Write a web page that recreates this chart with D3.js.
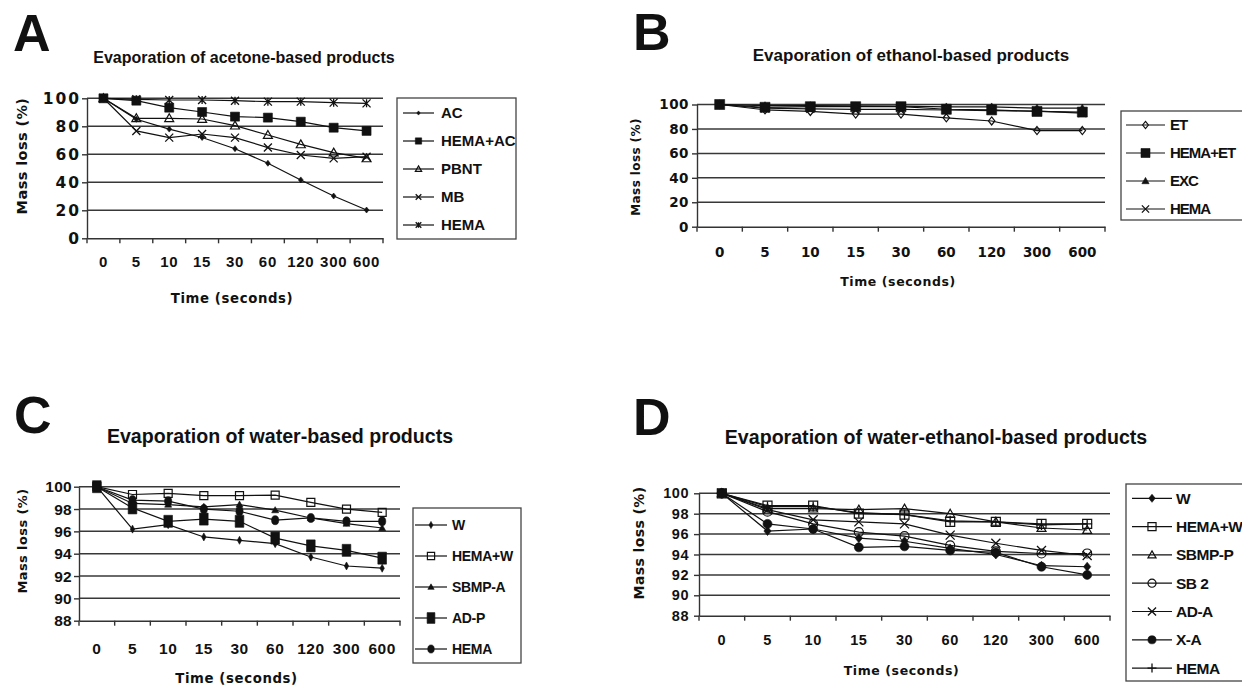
<!DOCTYPE html>
<html>
<head>
<meta charset="utf-8">
<script src="https://cdn.jsdelivr.net/npm/d3@7"></script>
<style>
  body { margin: 0; background: #fff; }
  text { fill: #111; }
</style>
</head>
<body>
<div id="chart"></div>
<script>
// Shared time categories
var timeLabels = ["0", "5", "10", "15", "30", "60", "120", "300", "600"];

// Panel A - acetone
var namesA = ["AC", "HEMA+AC", "PBNT", "MB", "HEMA"];
var acA     = [100, 85, 78, 72, 64, 53.6, 41.7, 30.2, 20.2];
var hemaAcA = [100, 98.3, 93.3, 90.2, 86.9, 86.2, 83.3, 79, 76.7];
var pbntA   = [100, 85.7, 85.7, 85.2, 80.5, 73.8, 67.1, 61.2, 57.1];
var mbA     = [100, 76.7, 71.9, 74.5, 71.9, 64.8, 59.5, 57.1, 58.3];
var hemaA   = [100, 99.3, 98.8, 98.8, 98.3, 97.6, 97.6, 96.9, 96.4];
var yTicksA = [0, 20, 40, 60, 80, 100];

// Panel B - ethanol
var namesB = ["ET", "HEMA+ET", "EXC", "HEMA"];
var etB     = [100, 95.6, 94.3, 92.2, 92.2, 89.1, 86.5, 78.7, 78.7];
var hemaEtB = [100, 97.7, 98.2, 98.2, 98.2, 96.1, 95.6, 94.3, 93.8];
var excB    = [100, 99, 99, 98.8, 98.7, 98, 98, 97, 97];
var hemaB   = [100, 97, 96.5, 96, 96, 95.5, 95, 94.5, 93];
var yTicksB = [0, 20, 40, 60, 80, 100];

// Panel C - water
var namesC = ["W", "HEMA+W", "SBMP-A", "AD-P", "HEMA"];
var wC      = [100, 96.2, 96.6, 95.5, 95.2, 94.9, 93.7, 92.9, 92.7];
var hemaWC  = [100, 99.3, 99.4, 99.2, 99.2, 99.25, 98.6, 98.0, 97.7];
var sbmpAC  = [100, 98.5, 98.4, 98.2, 98.4, 97.9, 97.2, 96.7, 96.3];
var adpC    = [100, 98.1, 96.9, 97.1, 96.9, 95.4, 94.7, 94.3, 93.6];
var hemaC   = [100, 98.8, 98.7, 98.0, 97.8, 97.0, 97.2, 96.9, 96.9];
var yTicksC = [88, 90, 92, 94, 96, 98, 100];

// Panel D - water-ethanol
var namesD = ["W", "HEMA+W", "SBMP-P", "SB 2", "AD-A", "X-A", "HEMA"];
var wD      = [100, 96.3, 96.5, 95.6, 95.3, 94.6, 94.0, 92.9, 92.8];
var hemaWD  = [100, 98.8, 98.8, 98.0, 97.9, 97.2, 97.2, 97.0, 97.0];
var sbmpPD  = [100, 98.5, 98.5, 98.4, 98.5, 98.0, 97.2, 96.6, 96.4];
var sb2D    = [100, 98.2, 97.0, 96.2, 95.8, 94.9, 94.3, 94.1, 94.1];
var adaD    = [100, 98.4, 97.4, 97.2, 97.0, 95.9, 95.1, 94.4, 93.9];
var xaD     = [100, 97.0, 96.5, 94.7, 94.8, 94.4, 94.2, 92.8, 92.0];
var hemaD   = [100, 98.7, 98.7, 98.1, 97.9, 97.3, 97.2, 96.9, 97.0];
var yTicksD = [88, 90, 92, 94, 96, 98, 100];

var ink = "#111";
var wideFont = "'DejaVu Sans', Verdana, sans-serif";
var textFont = "'Liberation Sans', Arial, sans-serif";

var svg = d3.select("#chart")
            .append("svg")
            .attr("width", 1242)
            .attr("height", 687)
            .style("background", "#fff");

// marker shapes, s = size in px
function markerPath(t, s) {
  var h = s / 2;
  switch (t) {
    case "diamond": return "M0," + (-h) + "L" + h * 0.8 + ",0L0," + h + "L" + (-h * 0.8) + ",0Z";
    case "thindiamond": return "M0," + (-h) + "L" + h * 0.55 + ",0L0," + h + "L" + (-h * 0.55) + ",0Z";
    case "square": return "M" + (-h) + "," + (-h) + "H" + h + "V" + h + "H" + (-h) + "Z";
    case "rect": return "M" + (-h * 0.72) + "," + (-h) + "H" + h * 0.72 + "V" + h + "H" + (-h * 0.72) + "Z";
    case "triangle": return "M0," + (-h) + "L" + h + "," + h * 0.75 + "L" + (-h) + "," + h * 0.75 + "Z";
    case "circle": return "M" + (-h) + ",0A" + h + "," + h + " 0 1,0 " + h + ",0A" + h + "," + h + " 0 1,0 " + (-h) + ",0Z";
    case "ellipse": return "M" + (-h * 0.8) + ",0A" + h * 0.8 + "," + h + " 0 1,0 " + h * 0.8 + ",0A" + h * 0.8 + "," + h + " 0 1,0 " + (-h * 0.8) + ",0Z";
    case "x": return "M" + (-h) + "," + (-h) + "L" + h + "," + h + "M" + (-h) + "," + h + "L" + h + "," + (-h);
    case "asterisk": return "M" + (-h) + "," + (-h) + "L" + h + "," + h + "M" + (-h) + "," + h + "L" + h + "," + (-h) + "M0," + (-h) + "V" + h;
    case "plus": return "M" + (-h) + ",0H" + h + "M0," + (-h) + "V" + h;
  }
}

function styleMarker(sel, m) {
  var open = (m.fill === "open");
  var stroked = (m.type === "x" || m.type === "asterisk" || m.type === "plus");
  sel.attr("fill", (open || stroked) ? "none" : ink)
     .attr("stroke", ink)
     .attr("stroke-width", stroked ? 1.3 : (open ? 1.2 : 0.6));
}

function drawPanel(p) {
  var g = svg.append("g");

  var x = d3.scaleBand().domain(timeLabels).range([p.left, p.right]);
  var y = d3.scaleLinear().domain([p.yTicks[0], p.yTicks[p.yTicks.length - 1]]).range([p.bottom, p.top]);
  var cx = function(i) { return x(timeLabels[i]) + x.bandwidth() / 2; };

  // gridlines
  g.selectAll("line.grid")
   .data(p.yTicks.slice(1))
   .enter()
   .append("line")
   .attr("x1", p.left).attr("x2", p.right)
   .attr("y1", function(d) { return y(d); })
   .attr("y2", function(d) { return y(d); })
   .attr("stroke", "#383838")
   .attr("stroke-width", 1.5);

  // y axis
  var yAxis = d3.axisLeft(y).tickValues(p.yTicks).tickSize(5).tickSizeOuter(0).tickPadding(p.yPad);
  var ya = g.append("g").attr("transform", "translate(" + p.left + ",0)").call(yAxis);
  ya.selectAll("path, line").attr("stroke", "#333").attr("stroke-width", 1.4);
  ya.selectAll("text")
    .style("font-family", p.yFamily).style("font-weight", "bold")
    .style("font-size", p.yFont + "px").style("letter-spacing", p.yLs + "px")
    .attr("fill", ink);

  // x axis, labels centred in bands
  var xAxis = d3.axisBottom(x).tickSize(0).tickSizeOuter(0).tickPadding(p.xPad);
  var xa = g.append("g").attr("transform", "translate(0," + p.bottom + ")").call(xAxis);
  xa.selectAll("path").attr("stroke", "#333").attr("stroke-width", 1.4);
  xa.selectAll("text")
    .style("font-family", p.xFamily).style("font-weight", "bold")
    .style("font-size", p.xFont + "px").style("letter-spacing", p.xLs + "px")
    .attr("fill", ink);

  // tick marks between categories
  var bounds = timeLabels.map(function(d) { return x(d); }).concat([p.right]);
  g.selectAll("line.xtick")
   .data(bounds)
   .enter()
   .append("line")
   .attr("x1", function(d) { return d; }).attr("x2", function(d) { return d; })
   .attr("y1", p.bottom).attr("y2", p.bottom + 5)
   .attr("stroke", "#333").attr("stroke-width", 1.4);

  // axis titles
  g.append("text")
   .attr("x", (p.left + p.right) / 2 - 3)
   .attr("y", p.xTitleY)
   .attr("text-anchor", "middle")
   .style("font-family", wideFont).style("font-weight", "bold")
   .style("font-size", p.xTitleFont + "px")
   .style("letter-spacing", "0.6px")
   .text("Time (seconds)");

  g.append("text")
   .attr("transform", "translate(" + p.yTitleX + "," + p.yTitleY + ") rotate(-90)")
   .attr("text-anchor", "middle")
   .style("font-family", wideFont).style("font-weight", "bold")
   .style("font-size", p.yTitleFont + "px")
   .style("letter-spacing", "0.4px")
   .text("Mass loss (%)");

  // panel title and letter
  g.append("text")
   .attr("x", p.titleX).attr("y", p.titleY)
   .attr("text-anchor", "middle")
   .style("font-family", textFont).style("font-weight", "bold")
   .style("font-size", p.titleFont + "px")
   .text(p.title);

  g.append("text")
   .attr("x", p.letterX).attr("y", p.letterY)
   .style("font-family", textFont).style("font-weight", "bold")
   .style("font-size", "52px")
   .text(p.letter);

  // series lines + markers
  var line = d3.line()
               .x(function(d, i) { return cx(i); })
               .y(function(d) { return y(d); });

  p.series.forEach(function(values, k) {
    var m = p.markers[k];
    g.append("path")
     .datum(values)
     .attr("d", line)
     .attr("fill", "none")
     .attr("stroke", ink)
     .attr("stroke-width", 1.2);

    g.selectAll("path.m" + k)
     .data(values)
     .enter()
     .append("path")
     .attr("class", "m" + k)
     .attr("transform", function(d, i) { return "translate(" + cx(i) + "," + y(d) + ")"; })
     .attr("d", markerPath(m.type, m.size))
     .call(styleMarker, m);
  });

  // legend
  var L = p.legend;
  g.append("rect")
   .attr("x", L.x0).attr("y", L.y0)
   .attr("width", L.x1 - L.x0).attr("height", L.y1 - L.y0)
   .attr("fill", "none").attr("stroke", "#444").attr("stroke-width", 1.3);

  var items = g.selectAll("g.leg")
               .data(p.names)
               .enter()
               .append("g")
               .attr("transform", function(d, i) { return "translate(0," + (L.row0 + L.step * i) + ")"; });

  items.append("line")
       .attr("x1", L.lx0).attr("x2", L.lx1)
       .attr("y1", 0).attr("y2", 0)
       .attr("stroke", ink).attr("stroke-width", 1.2);

  items.append("path")
       .attr("transform", "translate(" + (L.lx0 + L.lx1) / 2 + ",0)")
       .attr("d", function(d, i) { return markerPath(p.markers[i].type, p.markers[i].size * L.mScale); })
       .each(function(d, i) { d3.select(this).call(styleMarker, p.markers[i]); });

  items.append("text")
       .attr("x", L.tx)
       .attr("y", 0)
       .attr("dy", "0.36em")
       .style("font-family", textFont).style("font-weight", "bold")
       .style("font-size", L.font + "px")
       .style("letter-spacing", L.ls + "px")
       .text(function(d) { return d; });
}

drawPanel({
  letter: "A", letterX: 13, letterY: 51,
  title: "Evaporation of acetone-based products", titleX: 244, titleY: 63, titleFont: 16,
  left: 87, right: 383, top: 98.3, bottom: 238.3,
  yTicks: yTicksA, yFamily: wideFont, yFont: 15.5, yLs: 2, yPad: 1,
  xFamily: textFont, xFont: 15, xLs: 0.7, xPad: 18.5,
  xTitleY: 303, xTitleFont: 13.3, yTitleX: 27, yTitleY: 156, yTitleFont: 14.5,
  names: namesA,
  series: [acA, hemaAcA, pbntA, mbA, hemaA],
  markers: [{type: "diamond", size: 6}, {type: "square", size: 9}, {type: "triangle", size: 9, fill: "open"},
            {type: "x", size: 8}, {type: "asterisk", size: 8}],
  legend: {x0: 397, x1: 516, y0: 98, y1: 239, row0: 113, step: 28, lx0: 403, lx1: 434, tx: 441, font: 15, ls: 0, mScale: 0.7}
});

drawPanel({
  letter: "B", letterX: 633, letterY: 50,
  title: "Evaporation of ethanol-based products", titleX: 911, titleY: 61, titleFont: 17,
  left: 697, right: 1105, top: 104.5, bottom: 226.7,
  yTicks: yTicksB, yFamily: wideFont, yFont: 13.5, yLs: 0.5, yPad: 3,
  xFamily: wideFont, xFont: 13.5, xLs: 0, xPad: 20.3,
  xTitleY: 286, xTitleFont: 12.5, yTitleX: 640, yTitleY: 167, yTitleFont: 12,
  names: namesB,
  series: [etB, hemaEtB, excB, hemaB],
  markers: [{type: "diamond", size: 8, fill: "open"}, {type: "square", size: 10}, {type: "triangle", size: 8},
            {type: "x", size: 8}],
  legend: {x0: 1121, x1: 1260, y0: 111, y1: 220, row0: 125, step: 28, lx0: 1126, lx1: 1165, tx: 1170, font: 15, ls: -1, mScale: 0.9}
});

drawPanel({
  letter: "C", letterX: 14, letterY: 433,
  title: "Evaporation of water-based products", titleX: 280, titleY: 443, titleFont: 19.6,
  left: 79, right: 400, top: 486.7, bottom: 620.7,
  yTicks: yTicksC, yFamily: textFont, yFont: 15.5, yLs: 0.3, yPad: 2,
  xFamily: textFont, xFont: 15.5, xLs: 0.5, xPad: 22.2,
  xTitleY: 683, xTitleFont: 13.3, yTitleX: 27, yTitleY: 541, yTitleFont: 13,
  names: namesC,
  series: [wC, hemaWC, sbmpAC, adpC, hemaC],
  markers: [{type: "thindiamond", size: 8}, {type: "square", size: 8, fill: "open"}, {type: "triangle", size: 7},
            {type: "rect", size: 12}, {type: "ellipse", size: 9}],
  legend: {x0: 413, x1: 521, y0: 508, y1: 663, row0: 525, step: 31, lx0: 415, lx1: 447, tx: 452, font: 14, ls: -0.3, mScale: 0.9}
});

drawPanel({
  letter: "D", letterX: 633, letterY: 435,
  title: "Evaporation of water-ethanol-based products", titleX: 936, titleY: 444, titleFont: 19.6,
  left: 699, right: 1110, top: 493.3, bottom: 615.7,
  yTicks: yTicksD, yFamily: textFont, yFont: 14.5, yLs: 0.5, yPad: 5,
  xFamily: textFont, xFont: 14.5, xLs: 0.5, xPad: 19.2,
  xTitleY: 675, xTitleFont: 12.5, yTitleX: 644, yTitleY: 543, yTitleFont: 14,
  names: namesD,
  series: [wD, hemaWD, sbmpPD, sb2D, adaD, xaD, hemaD],
  markers: [{type: "diamond", size: 9}, {type: "square", size: 9, fill: "open"}, {type: "triangle", size: 9, fill: "open"},
            {type: "circle", size: 9, fill: "open"}, {type: "x", size: 9}, {type: "circle", size: 9},
            {type: "plus", size: 10}],
  legend: {x0: 1126, x1: 1260, y0: 484, y1: 681, row0: 498.3, step: 28.3, lx0: 1132, lx1: 1172, tx: 1176, font: 15.5, ls: -0.5, mScale: 0.9}
});
</script>
</body>
</html>
